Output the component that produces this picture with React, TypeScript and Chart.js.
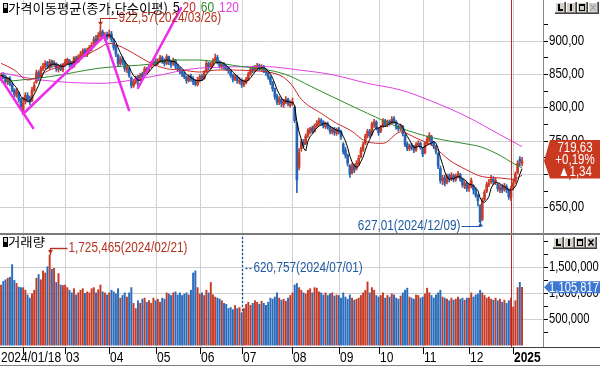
import React, { useEffect, useRef } from "react";
import { Chart, registerables } from "chart.js";
Chart.register(...registerables);

// ---------- DATA (KOSDAQ-like daily candles, 2024/01/18 .. 2025/01/08) ----------
const opens = [
  842, 849, 846, 838, 843, 834, 826, 818, 822, 812,
  795, 808, 818, 813, 810, 826, 838, 852, 846, 858, 862, 867, 860, 869, 864, 866, 857, 863, 856,
  864, 867, 870, 866, 862, 874, 869, 874, 879, 886, 879, 884, 888, 895, 903, 899, 907, 913, 905, 909,
  906, 910, 900, 891, 878, 866, 873, 868, 857, 858, 844, 832, 838, 846, 842, 850, 848, 857, 855, 862, 865,
  869, 866, 870, 875, 871, 866, 876, 868, 866, 870, 862, 858, 854, 850, 845, 840, 847, 843, 838, 834,
  840, 847, 843, 854, 866, 860, 864, 871, 875, 868, 861, 865, 861, 859, 855, 848, 842, 846, 838,
  840, 834, 837, 842, 850, 858, 856, 859, 863, 857, 861, 856, 852, 845, 837, 828, 817, 807, 812, 804, 808, 812, 803,
  806, 800, 776, 710, 738, 748, 746, 758, 763, 769, 764, 772, 776, 781, 778, 771, 775, 770, 763, 767, 761,
  767, 764, 745, 736, 728, 712, 702, 712, 708, 716, 726, 736, 746, 757, 764, 760, 774, 778,
  768, 764, 771, 780, 774, 779, 776, 783, 778, 771, 768, 771, 758, 745, 738, 743, 741, 736, 744, 746,
  738, 732, 746, 752, 756, 747, 741, 730, 708, 690, 694, 688, 697, 693, 697, 692, 698, 699, 692, 682, 686,
  679, 682, 682, 676, 668, 652, 632, 662, 674, 684, 688, 692, 688, 684, 676, 680, 677, 681, 676, 665,
  680, 688, 702, 722, 716,
];
const highs = [
  851, 852, 848, 845, 846, 837, 828, 828, 823, 814,
  815, 822, 822, 817, 830, 838, 856, 855, 861, 866, 870, 869, 872, 871, 870, 867, 864, 865, 866,
  872, 874, 872, 868, 876, 877, 879, 884, 888, 888, 889, 893, 897, 906, 908, 912, 922.57, 916, 912, 913,
  916, 914, 903, 893, 880, 876, 876, 870, 864, 860, 846, 842, 847, 848, 851, 853, 861, 860, 864, 869, 872,
  873, 873, 878, 877, 873, 879, 877, 870, 874, 872, 865, 860, 856, 853, 847, 849, 850, 846, 842, 845,
  849, 850, 855, 869, 868, 868, 873, 880, 878, 870, 867, 867, 864, 861, 857, 850, 849, 848, 845,
  843, 841, 845, 853, 860, 862, 863, 866, 865, 864, 863, 858, 854, 847, 839, 829, 820, 816, 814, 812, 816, 814, 810,
  814, 802, 778, 738, 752, 752, 760, 768, 770, 772, 775, 780, 784, 783, 780, 778, 778, 772, 770, 770, 769,
  770, 766, 747, 740, 730, 714, 716, 715, 720, 728, 740, 748, 760, 767, 767, 778, 782, 780,
  770, 773, 783, 782, 781, 781, 786, 786, 780, 773, 775, 773, 760, 748, 745, 746, 743, 747, 750, 748,
  740, 748, 757, 762, 758, 749, 743, 732, 712, 698, 698, 700, 700, 702, 700, 700, 704, 701, 694, 690, 688,
  686, 694, 684, 679, 670, 654, 664, 676, 688, 692, 698, 696, 694, 686, 684, 684, 686, 684, 678, 682,
  692, 703, 720, 726, 725,
];
const lows = [
  840, 843, 836, 834, 832, 823, 816, 815, 808, 797,
  792, 805, 808, 804, 808, 824, 836, 840, 845, 855, 858, 858, 857, 860, 861, 854, 853, 855, 853,
  862, 864, 860, 858, 860, 867, 867, 872, 876, 876, 876, 881, 885, 894, 895, 897, 905, 903, 900, 902,
  904, 898, 886, 876, 862, 863, 864, 854, 852, 845, 829, 830, 835, 832, 840, 843, 847, 850, 853, 860, 863,
  862, 864, 868, 866, 862, 864, 864, 860, 863, 858, 855, 850, 846, 843, 836, 838, 839, 834, 832, 832,
  838, 840, 842, 852, 856, 858, 862, 868, 865, 859, 858, 857, 855, 851, 845, 838, 840, 836, 835,
  830, 831, 835, 840, 848, 852, 854, 856, 855, 854, 852, 848, 842, 834, 824, 812, 804, 804, 801, 800, 805, 802, 800,
  803, 777, 672, 706, 734, 740, 744, 755, 760, 761, 763, 770, 773, 773, 769, 768, 767, 760, 760, 758, 758,
  760, 752, 730, 724, 712, 695, 700, 702, 706, 714, 724, 734, 744, 754, 755, 758, 770, 766,
  758, 762, 770, 771, 771, 773, 775, 776, 767, 764, 765, 757, 741, 735, 735, 736, 732, 734, 741, 737,
  726, 730, 744, 748, 743, 738, 730, 708, 686, 684, 682, 685, 688, 690, 688, 689, 694, 689, 680, 678, 674,
  674, 679, 670, 665, 652, 627.01, 630, 660, 672, 681, 686, 684, 684, 674, 672, 672, 674, 672, 662, 660,
  676, 686, 700, 712, 712,
];
const closes = [
  848, 845, 840, 842, 835, 826, 820, 824, 812, 800,
  806, 818, 812, 808, 826, 833, 852, 845, 858, 862, 866, 861, 868, 864, 867, 858, 862, 857, 864,
  868, 872, 864, 862, 874, 870, 876, 880, 885, 879, 886, 890, 893, 902, 898, 908, 914, 906, 908, 905,
  910, 902, 890, 880, 866, 872, 868, 858, 860, 848, 833, 838, 844, 840, 848, 846, 858, 854, 862, 866, 869,
  866, 870, 874, 870, 866, 876, 868, 864, 870, 862, 858, 853, 850, 846, 840, 846, 842, 838, 835, 840,
  846, 843, 852, 866, 860, 864, 870, 874, 868, 862, 864, 860, 858, 855, 848, 842, 846, 840, 840,
  834, 838, 842, 850, 857, 856, 860, 862, 858, 861, 856, 852, 845, 838, 828, 816, 808, 812, 806, 808, 812, 806, 805,
  808, 780, 691, 732, 748, 744, 757, 765, 768, 764, 772, 776, 780, 777, 772, 775, 770, 764, 767, 762, 766,
  764, 756, 734, 728, 716, 700, 712, 706, 716, 724, 736, 744, 757, 764, 758, 775, 778, 770,
  762, 770, 780, 774, 778, 776, 782, 779, 770, 768, 772, 760, 744, 738, 742, 740, 736, 744, 746, 740,
  730, 746, 752, 758, 746, 742, 734, 712, 690, 694, 686, 696, 692, 698, 692, 697, 700, 692, 684, 686, 678,
  682, 690, 676, 668, 660, 628, 660, 672, 684, 686, 692, 688, 690, 678, 680, 676, 682, 676, 666, 678,
  686, 700, 716, 718.29, 719.63,
];
// volume, thousands of shares
const volumesK = [
  1150, 1220, 1250, 1280, 1300, 1540, 1240, 1180, 1110, 1100,
  1100, 1050, 960, 900, 980, 1050, 1280, 1350, 1250, 1420, 1380, 1500, 1725.465, 1450, 1470, 1200, 1370, 1150, 1140,
  1150, 1100, 1050, 1000, 1080, 960, 1000, 1050, 1080, 990, 1020, 1000, 1080, 1100, 1000, 1060, 1150, 1020, 1000, 960,
  1000, 1050, 1020, 980, 1080, 900, 950, 1000, 920, 1000, 1100, 800, 700, 850, 800, 880, 900, 820, 850, 800, 900,
  850, 880, 820, 900, 880, 1000, 980, 950, 1000, 1020, 960, 1000, 950, 980, 1000, 960, 1050, 1380, 1420, 1100,
  980, 1000, 950, 1050, 1000, 1200, 960, 920, 900, 880, 850, 800, 780, 700, 720, 680, 760, 700, 720,
  620.757, 700, 780, 820, 760, 800, 850, 820, 780, 840, 800, 760, 820, 900, 880, 920, 1000, 900, 860, 880, 840, 900, 950,
  1000, 1150, 1180, 1100, 1050, 1000, 980, 1050, 1080, 1000, 1100, 1090, 1020, 1000, 960, 1000, 950, 980, 1000, 940, 960,
  950, 900, 1000, 920, 880, 960, 900, 860, 880, 900, 950, 1000, 1050, 1210, 1000, 1100, 1050, 950,
  920, 950, 1000, 900, 950, 920, 980, 960, 900, 880, 940, 1000, 1050, 1090, 920, 900, 880, 960, 950, 900,
  920, 980, 1090, 1000, 950, 900, 960, 1000, 1050, 920, 900, 880, 850, 900, 860, 880, 920, 880, 900, 860, 900,
  900, 1000, 920, 960, 980, 1050, 1000, 950, 900, 920, 880, 860, 900, 850, 880, 820, 860, 800, 850, 900,
  730, 850, 1100, 1200, 1105.817,
];

// moving averages (index -> value)
const ma20Idx = [0, 6, 12, 22, 30, 37, 44, 49, 55, 60, 68, 75, 82, 90, 98, 105, 113, 121, 128, 132, 136, 145, 152, 158, 166, 173, 181, 188, 196, 203, 211, 218, 226, 232, 236];
const ma20Val = [866, 856, 841, 856, 866, 876, 888, 896, 890, 881, 866, 858, 856, 853, 856, 856, 855, 853, 845, 832, 812, 791, 776, 766, 748, 746, 763, 754, 741, 721, 706, 696, 694, 692, 698];
const ma60Idx = [0, 22, 45, 68, 78, 90, 105, 121, 130, 140, 150, 166, 181, 196, 211, 217, 226, 232, 236];
const ma60Val = [838, 846, 859, 865, 871, 871, 863, 856, 848, 832, 816, 791, 769, 754, 745, 741, 728, 716, 709];
const ma120Idx = [0, 9, 18, 45, 68, 90, 120, 135, 150, 166, 181, 196, 211, 226, 236];
const ma120Val = [852, 846, 841, 836, 846, 859, 861, 856, 849, 836, 826, 808, 786, 759, 741];

// user-drawn trend lines: [idx0, price0, idx1, price1]
const trendLines = [
  [-0.5, 845, 14.5, 769],
  [9.9, 790, 47.1, 908],
  [46.6, 908, 57.9, 796],
  [62, 829, 81.5, 949],
];

const monthStartIdx = [10, 29, 49, 70, 90, 109, 132, 153, 171, 191, 212, 232];
const monthLabels = ["", "03", "04", "05", "06", "07", "08", "09", "10", "11", "12", "2025"];
const firstDateLabel = "2024/01/18";
const yearLineIdx = 231;
const priceTicks = [650, 675, 700, 725, 750, 775, 800, 825, 850, 875, 900, 925];
const priceGrid = [650, 700, 750, 800, 850, 900];
const volTicks = [250000, 500000, 750000, 1000000, 1250000, 1500000, 1750000, 2000000];
const volGrid = [500000, 1000000, 1500000];
const maxPriceIdx = 45, maxPriceDate = "2024/03/26";
const minPriceIdx = 217, minPriceDate = "2024/12/09";
const maxVolIdx = 22, maxVolDate = "2024/02/21";
const minVolIdx = 109, minVolDate = "2024/07/01";
const lastChange = 1.34, lastChangePct = 0.19;
const maPeriods = ["5", "20", "60", "120"];

// ---------- STYLE ----------
const UP = "#c83c28";
const DOWN = "#2864b4";
const VUP = "#c43c28";
const VDOWN = "#2a6cbc";
const GRID = "#d0d0d0";
const MA_COLORS = ["#000000", "#c8282a", "#2e8b2e", "#e040e0"];
const SANS = '"Liberation Sans", Arial, sans-serif';
const KR = '"Noto Sans CJK KR","Noto Sans",sans-serif';
const PRICE_MIN = 611.43, PRICE_MAX = 961.07;
const VOL_MIN = -35400, VOL_MAX = 2144400;

const fmt2 = (v: number) => v.toFixed(2).replace(".", ",");
const fmtInt = (v: number) => Math.round(v).toLocaleString("en-US");

// narrow (horizontally condensed) text
function ntext(ctx: any, s: string, x: number, y: number, size: number, align: string = "left", bold = false, sx = 0.82, family = SANS) {
  ctx.save();
  ctx.font = `${bold ? "bold " : ""}${size}px ${family}`;
  ctx.textBaseline = "middle";
  ctx.textAlign = align;
  ctx.translate(x, y);
  ctx.scale(sx, 1);
  ctx.fillText(s, 0, 0);
  const w = ctx.measureText(s).width * sx;
  ctx.restore();
  return w;
}
// text fitted to a given width
function fittext(ctx: any, s: string, x: number, y: number, size: number, width: number, family: string) {
  ctx.save();
  ctx.font = `${size}px ${family}`;
  const w = ctx.measureText(s).width;
  ctx.restore();
  return ntext(ctx, s, x, y, size, "left", false, width / w, family);
}

function drawButtons(ctx: any, x0: number, y0: number, xDisabled: boolean) {
  const w = 11, h = 11;
  for (let k = 0; k < 4; k++) {
    const bx = Math.round(x0 + k * w), by = y0;
    ctx.fillStyle = "#d4d0c8"; ctx.fillRect(bx, by, 10, h);
    ctx.fillStyle = "#ffffff"; ctx.fillRect(bx, by, 10, 1); ctx.fillRect(bx, by, 1, h);
    ctx.fillStyle = "#808080"; ctx.fillRect(bx, by + h - 1, 10, 1); ctx.fillRect(bx + 9, by, 1, h);
    ctx.fillStyle = "#404040"; ctx.fillRect(bx, by + h, 11, 1); ctx.fillRect(bx + 10, by, 1, h + 1);
    const col = k === 3 && xDisabled ? "#a8a8a8" : "#000";
    ctx.fillStyle = col; ctx.strokeStyle = col;
    if (k === 0) { ctx.fillRect(bx + 3, by + 2, 2, 7); ctx.fillRect(bx + 3, by + 7, 5, 2); }
    if (k === 1) { ctx.fillRect(bx + 4, by + 2, 2, 7); }
    if (k === 2) { ctx.lineWidth = 1; ctx.strokeRect(bx + 2.5, by + 2.5, 5, 6); ctx.fillRect(bx + 2, by + 2, 6, 2); }
    if (k === 3) {
      ctx.lineWidth = 1.4; ctx.beginPath();
      ctx.moveTo(bx + 2.5, by + 2.5); ctx.lineTo(bx + 7.5, by + 8.5);
      ctx.moveTo(bx + 7.5, by + 2.5); ctx.lineTo(bx + 2.5, by + 8.5); ctx.stroke();
    }
  }
}

function drawIcon(ctx: any, x: number, y: number) {
  ctx.fillStyle = "#000"; ctx.fillRect(x, y, 5, 10);
  ctx.fillStyle = "#c8c8c8"; ctx.fillRect(x + 1, y + 1, 3, 4);
}

function hline(ctx: any, x0: number, x1: number, y: number) {
  ctx.beginPath(); ctx.moveTo(x0, y); ctx.lineTo(x1, y); ctx.stroke();
}
function vline(ctx: any, x: number, y0: number, y1: number) {
  ctx.beginPath(); ctx.moveTo(x, y0); ctx.lineTo(x, y1); ctx.stroke();
}

function flag(ctx: any, tipX: number, tipY: number, top: number, bottom: number, color: string) {
  ctx.fillStyle = color;
  ctx.beginPath();
  ctx.moveTo(tipX, tipY);
  ctx.lineTo(tipX + 6, top);
  ctx.lineTo(600, top);
  ctx.lineTo(600, bottom);
  ctx.lineTo(tipX + 6, bottom);
  ctx.closePath();
  ctx.fill();
}

export default function App() {
  const priceRef = useRef<HTMLCanvasElement>(null);
  const volRef = useRef<HTMLCanvasElement>(null);

  useEffect(() => {
    const n = closes.length;
    const idx = Array.from({ length: n }, (_, i) => i);
    const up = idx.map((i) => closes[i] >= opens[i]);
    const cColors = up.map((u) => (u ? UP : DOWN));
    const vColors = up.map((u) => (u ? VUP : VDOWN));
    const ma5 = idx.map((i) => {
      const s = Math.max(0, i - 4);
      let t = 0;
      for (let k = s; k <= i; k++) t += closes[k];
      return { x: i, y: t / (i - s + 1) };
    });
    const pts = (ix: number[], vals: number[]) => ix.map((x, k) => ({ x, y: vals[k] }));

    const pricePlugin = {
      id: "pricePanel",
      beforeDatasetsDraw(chart: any) {
        const { ctx, chartArea: a } = chart;
        const x = chart.scales.x, y = chart.scales.y;
        ctx.save();
        ctx.strokeStyle = GRID; ctx.lineWidth = 1;
        ctx.beginPath();
        priceGrid.forEach((v) => { const py = Math.round(y.getPixelForValue(v)) + 0.5; ctx.moveTo(a.left, py); ctx.lineTo(a.right, py); });
        monthStartIdx.forEach((i) => { const px = Math.round(x.getPixelForValue(i)) + 0.5; ctx.moveTo(px, a.top); ctx.lineTo(px, a.bottom); });
        ctx.stroke();
        ctx.restore();
      },
      afterDraw(chart: any) {
        const { ctx, chartArea: a } = chart;
        const x = chart.scales.x, y = chart.scales.y;
        ctx.save();
        // year separator
        ctx.strokeStyle = "#c42424"; ctx.lineWidth = 1;
        const yx = Math.round(x.getPixelForValue(yearLineIdx)) + 0.5;
        vline(ctx, yx, 0, a.bottom);
        // trend lines
        ctx.strokeStyle = "#ee2cee"; ctx.lineWidth = 2.5; ctx.lineCap = "round";
        trendLines.forEach((t) => {
          ctx.beginPath();
          ctx.moveTo(x.getPixelForValue(t[0]), y.getPixelForValue(t[1]));
          ctx.lineTo(x.getPixelForValue(t[2]), y.getPixelForValue(t[3]));
          ctx.stroke();
        });
        ctx.lineCap = "butt";
        // right axis
        ctx.fillStyle = "#fff"; ctx.fillRect(a.right, 0, 600 - a.right, a.bottom);
        ctx.fillStyle = "#8a8a8a"; ctx.fillRect(a.right, 0, 1, a.bottom);
        ctx.strokeStyle = "#000"; ctx.lineWidth = 1; ctx.fillStyle = "#000";
        priceTicks.forEach((v) => {
          const py = Math.round(y.getPixelForValue(v)) + 0.5;
          hline(ctx, a.right + 1, a.right + 5, py);
          if (v % 50 === 0) ntext(ctx, fmt2(v), a.right + 6, py, 14, "left", false, 0.82);
        });
        drawButtons(ctx, 555, 2, true);
        // title
        drawIcon(ctx, 3, 3);
        ctx.fillStyle = "#000";
        const title = "가격이동평균(종가,단순이평)";
        let tx = 8 + fittext(ctx, title, 8, 8.5, 13, 160, KR) + 5;
        const gaps = [3, 5, 5, 0];
        maPeriods.forEach((s, k) => { ctx.fillStyle = MA_COLORS[k]; tx += ntext(ctx, s, tx, 8.5, 14, "left", false, 0.85) + gaps[k]; });
        // max price annotation
        const red = "#b4321e", blue = "#1f5aa0";
        const mx = Math.round(x.getPixelForValue(maxPriceIdx)) + 0.5;
        const my = y.getPixelForValue(highs[maxPriceIdx]);
        ctx.strokeStyle = red; ctx.fillStyle = red; ctx.lineWidth = 1;
        hline(ctx, mx, mx + 17, 18.5); vline(ctx, mx, 18, my);
        ctx.beginPath(); ctx.moveTo(mx - 2.5, my - 4); ctx.lineTo(mx + 2.5, my - 4); ctx.lineTo(mx, my); ctx.closePath(); ctx.fill();
        ntext(ctx, `${fmt2(highs[maxPriceIdx])}(${maxPriceDate})`, mx + 18, 18.5, 14, "left", false, 0.84);
        // min price annotation
        const nx = Math.round(x.getPixelForValue(minPriceIdx)) + 0.5;
        const ny = y.getPixelForValue(lows[minPriceIdx]);
        ctx.strokeStyle = blue; ctx.fillStyle = blue;
        hline(ctx, nx - 19, nx, 226.5); vline(ctx, nx, ny, 226.5);
        ctx.beginPath(); ctx.moveTo(nx - 2.5, ny + 4); ctx.lineTo(nx + 2.5, ny + 4); ctx.lineTo(nx, ny); ctx.closePath(); ctx.fill();
        ntext(ctx, `${fmt2(lows[minPriceIdx])}(${minPriceDate})`, nx - 20, 226.5, 14, "right", false, 0.84);
        // last price flag
        const last = closes[n - 1];
        const ly = y.getPixelForValue(last);
        flag(ctx, a.right + 1, ly, ly - 21, ly + 17.5, "#c8391f");
        ctx.fillStyle = "#fff";
        const cx = 575;
        ntext(ctx, fmt2(last), cx, ly - 12.5, 14, "center", false, 0.82);
        ntext(ctx, `+${fmt2(lastChangePct)}%`, cx, ly - 0.5, 14, "center", false, 0.82);
        ntext(ctx, `\u25B2${fmt2(lastChange)}`, cx, ly + 11.5, 14, "center", false, 0.82);
        ctx.restore();
      },
    };

    const volPlugin = {
      id: "volPanel",
      beforeDatasetsDraw(chart: any) {
        const { ctx, chartArea: a } = chart;
        const x = chart.scales.x, y = chart.scales.y;
        ctx.save();
        ctx.strokeStyle = GRID; ctx.lineWidth = 1;
        ctx.beginPath();
        volGrid.forEach((v) => { const py = Math.round(y.getPixelForValue(v)) + 0.5; ctx.moveTo(a.left, py); ctx.lineTo(a.right, py); });
        monthStartIdx.forEach((i) => { const px = Math.round(x.getPixelForValue(i)) + 0.5; ctx.moveTo(px, a.top); ctx.lineTo(px, a.bottom); });
        ctx.stroke();
        ctx.restore();
      },
      afterDraw(chart: any) {
        const { ctx, chartArea: a } = chart;
        const x = chart.scales.x, y = chart.scales.y;
        ctx.save();
        ctx.strokeStyle = "#c42424"; ctx.lineWidth = 1;
        const yx = Math.round(x.getPixelForValue(yearLineIdx)) + 0.5;
        vline(ctx, yx, 0, a.bottom);
        // separator between panels
        ctx.fillStyle = "#7a7a7a"; ctx.fillRect(0, 0, 600, 2);
        // right axis
        ctx.fillStyle = "#fff"; ctx.fillRect(a.right, 2, 600 - a.right, a.bottom - 2);
        ctx.fillStyle = "#8a8a8a"; ctx.fillRect(a.right, 0, 1, a.bottom);
        ctx.strokeStyle = "#000"; ctx.lineWidth = 1; ctx.fillStyle = "#000";
        volTicks.forEach((v) => {
          const py = Math.round(y.getPixelForValue(v)) + 0.5;
          hline(ctx, a.right + 1, a.right + 5, py);
          if (v % 500000 === 0 && v < 2000000) ntext(ctx, fmtInt(v), a.right + 6, py, 14, "left", false, 0.8);
        });
        drawButtons(ctx, 553, 4, false);
        // title
        drawIcon(ctx, 3, 4);
        ctx.fillStyle = "#000";
        fittext(ctx, "거래량", 8, 9.5, 12, 37, KR);
        // max volume annotation
        const red = "#b4321e", blue = "#1f5aa0";
        const mx = Math.round(x.getPixelForValue(maxVolIdx)) + 0.5;
        const myv = y.getPixelForValue(volumesK[maxVolIdx] * 1000);
        ctx.strokeStyle = red; ctx.fillStyle = red;
        hline(ctx, mx, mx + 17, 15.5); vline(ctx, mx, 15, myv);
        ctx.beginPath(); ctx.moveTo(mx - 2.5, 17); ctx.lineTo(mx + 2.5, 17); ctx.lineTo(mx, 21); ctx.closePath(); ctx.fill();
        ntext(ctx, `${fmtInt(volumesK[maxVolIdx] * 1000)}(${maxVolDate})`, mx + 18, 15.5, 14, "left", false, 0.84);
        // min volume annotation
        const nx = Math.round(x.getPixelForValue(minVolIdx)) + 0.5;
        const nyv = y.getPixelForValue(volumesK[minVolIdx] * 1000);
        ctx.strokeStyle = blue; ctx.fillStyle = blue; ctx.setLineDash([2, 2]);
        vline(ctx, nx, 4, nyv);
        hline(ctx, nx + 3, nx + 9, 35.5);
        ctx.setLineDash([]);
        ntext(ctx, `${fmtInt(volumesK[minVolIdx] * 1000)}(${minVolDate})`, nx + 11, 35.5, 14, "left", false, 0.84);
        // last volume flag
        const lastV = volumesK[n - 1] * 1000;
        const lv = y.getPixelForValue(lastV);
        flag(ctx, a.right + 1, lv, lv - 6, lv + 6, "#3c78d2");
        ctx.fillStyle = "#fff";
        ntext(ctx, fmtInt(lastV), 574, lv + 0.5, 14, "center", false, 0.8);
        // x axis
        ctx.fillStyle = "#fff"; ctx.fillRect(0, a.bottom, 600, 133 - a.bottom);
        ctx.fillStyle = "#404040"; ctx.fillRect(0, a.bottom, 600, 1);
        ctx.fillStyle = "#808080"; ctx.fillRect(0, 132, 600, 1);
        ctx.strokeStyle = "#000"; ctx.lineWidth = 1; ctx.fillStyle = "#000";
        ntext(ctx, firstDateLabel, 1, a.bottom + 10.5, 15, "left", false, 0.8);
        monthStartIdx.forEach((i, k) => {
          const px = Math.round(x.getPixelForValue(i)) + 0.5;
          vline(ctx, px, a.bottom + 1, a.bottom + 7);
          const lab = monthLabels[k];
          if (!lab) return;
          ntext(ctx, lab, px + 0.5, a.bottom + 10.5, 15, "left", lab.length === 4, 0.8);
        });
        ctx.restore();
      },
    };

    const common = {
      responsive: false,
      animation: false as const,
      devicePixelRatio: 1,
      events: [] as any[],
      plugins: { legend: { display: false }, tooltip: { enabled: false } },
    };

    const priceChart = new Chart(priceRef.current as HTMLCanvasElement, {
      type: "bar",
      data: {
        datasets: [
          { type: "line", data: ma5, borderColor: MA_COLORS[0], borderWidth: 1, pointRadius: 0, tension: 0, order: 0 } as any,
          { type: "line", data: pts(ma20Idx, ma20Val), borderColor: MA_COLORS[1], borderWidth: 1, pointRadius: 0, cubicInterpolationMode: "monotone", order: 1 } as any,
          { type: "line", data: pts(ma60Idx, ma60Val), borderColor: MA_COLORS[2], borderWidth: 1, pointRadius: 0, cubicInterpolationMode: "monotone", order: 1 } as any,
          { type: "line", data: pts(ma120Idx, ma120Val), borderColor: MA_COLORS[3], borderWidth: 1, pointRadius: 0, cubicInterpolationMode: "monotone", order: 1 } as any,
          { type: "bar", data: idx.map((i) => ({ x: i, y: [opens[i], closes[i]] })), backgroundColor: cColors, barThickness: 2, grouped: false, minBarLength: 1, borderWidth: 0, order: 2 } as any,
          { type: "bar", data: idx.map((i) => ({ x: i, y: [lows[i], highs[i]] })), backgroundColor: cColors, barThickness: 1, grouped: false, borderWidth: 0, order: 3 } as any,
        ],
      },
      options: {
        ...common,
        layout: { padding: { left: 0, right: 57, top: 0, bottom: 0 } },
        scales: {
          x: { type: "linear", min: -0.5, max: 245.5, display: false, offset: false },
          y: { type: "linear", min: PRICE_MIN, max: PRICE_MAX, display: false },
        },
      } as any,
      plugins: [pricePlugin],
    });

    const volChart = new Chart(volRef.current as HTMLCanvasElement, {
      type: "bar",
      data: {
        datasets: [
          { type: "bar", data: idx.map((i) => ({ x: i, y: volumesK[i] * 1000 })), backgroundColor: vColors, barThickness: 1.3, borderWidth: 0 } as any,
        ],
      },
      options: {
        ...common,
        layout: { padding: { left: 0, right: 57, top: 0, bottom: 19 } },
        scales: {
          x: { type: "linear", min: -0.5, max: 245.5, display: false, offset: false },
          y: { type: "linear", min: VOL_MIN, max: VOL_MAX, display: false },
        },
      } as any,
      plugins: [volPlugin],
    });

    return () => { priceChart.destroy(); volChart.destroy(); };
  }, []);

  return (
    <div style={{ position: "absolute", left: 0, top: 0, width: 600, height: 366, background: "#fff", overflow: "hidden" }}>
      <canvas ref={priceRef} width={600} height={233} style={{ position: "absolute", left: 0, top: 0, width: 600, height: 233 }} />
      <canvas ref={volRef} width={600} height={133} style={{ position: "absolute", left: 0, top: 233, width: 600, height: 133 }} />
    </div>
  );
}
